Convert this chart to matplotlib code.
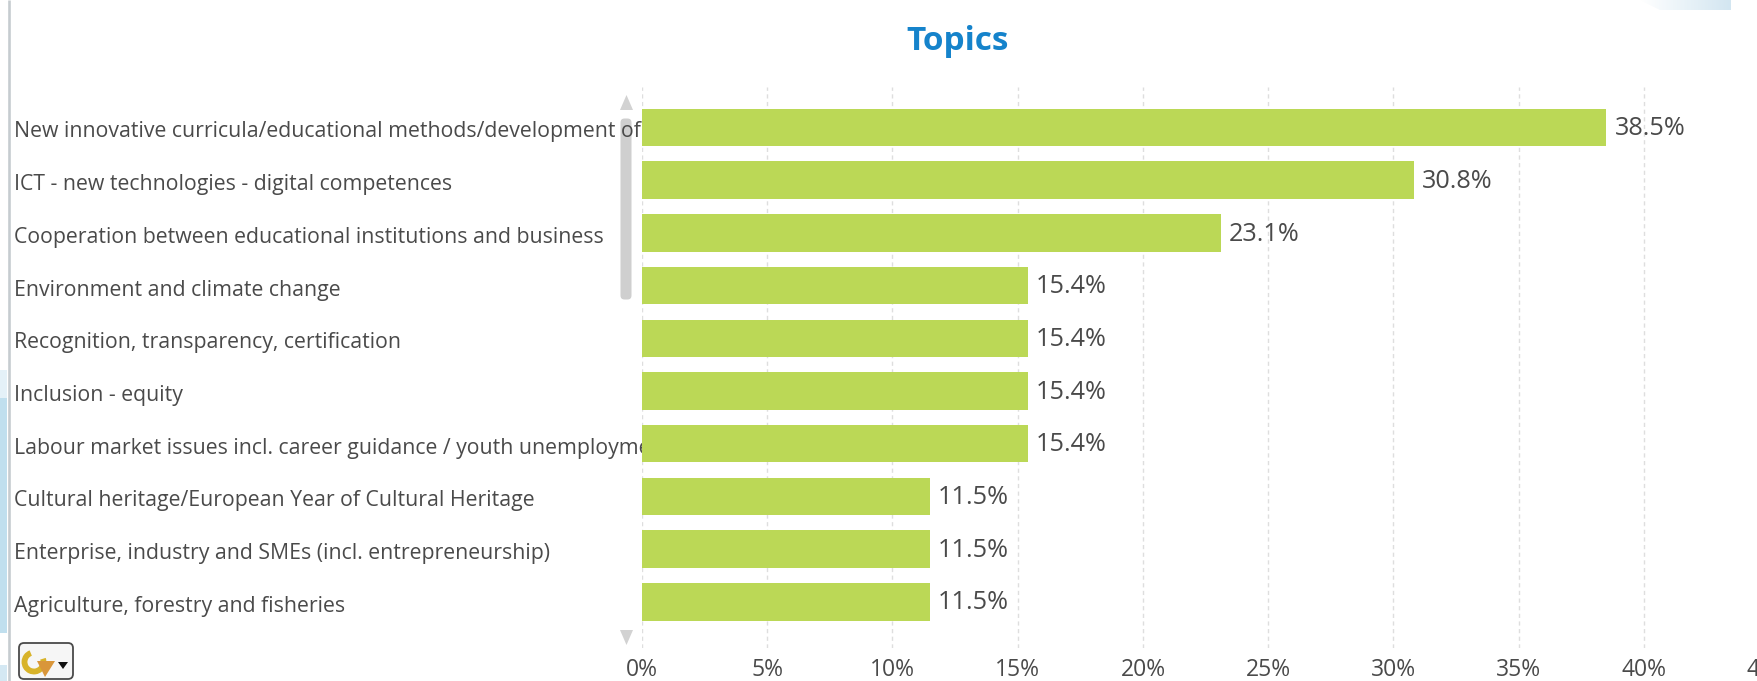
import matplotlib
matplotlib.use("Agg")
import numpy as np
import matplotlib.pyplot as plt
from matplotlib.patches import Rectangle, FancyBboxPatch, Polygon, Arc
from matplotlib.transforms import blended_transform_factory, Bbox

categories = [
    "New innovative curricula/educational methods/development of training courses",
    "ICT - new technologies - digital competences",
    "Cooperation between educational institutions and business",
    "Environment and climate change",
    "Recognition, transparency, certification",
    "Inclusion - equity",
    "Labour market issues incl. career guidance / youth unemployment",
    "Cultural heritage/European Year of Cultural Heritage",
    "Enterprise, industry and SMEs (incl. entrepreneurship)",
    "Agriculture, forestry and fisheries",
]
values = [38.5, 30.8, 23.1, 15.4, 15.4, 15.4, 15.4, 11.5, 11.5, 11.5]
x_ticks = [0, 5, 10, 15, 20, 25, 30, 35, 40, 45]

W, H = 1758, 681
BAR = "#bbd856"
TXT = "#4a4a4a"
plt.rcParams["font.family"] = ["Open Sans", "DejaVu Sans"]

fig = plt.figure(figsize=(W / 100, H / 100), dpi=100, facecolor="white")

def px_rect(l, t, r, b):
    return [l / W, 1 - b / H, (r - l) / W, (b - t) / H]

# page furniture behind the chart
ov = fig.add_axes([0, 0, 1, 1], zorder=-1)
ov.set_xlim(0, W); ov.set_ylim(H, 0); ov.axis("off")
ov.add_patch(Rectangle((0, 370), 7.5, 28, color="#e4f1f8", lw=0))
ov.add_patch(Rectangle((0, 398), 7.5, 235, color="#c0dfee", lw=0))
ov.add_patch(Rectangle((0, 665), 7.5, 16, color="#d4e8f3", lw=0))
ov.plot([9.5, 9.5], [0, H], color="#c6ccd0", lw=1.9, solid_capstyle="butt")
grad = ov.imshow(np.linspace(0, 1, 64).reshape(1, -1), extent=(1640, 1731, 10, 0),
                 cmap=matplotlib.colors.LinearSegmentedColormap.from_list("g", ["#ffffff", "#d3e6f1"]),
                 aspect="auto", zorder=1)
grad.set_clip_path(Polygon([(1640, 0), (1731, 0), (1731, 10), (1660, 10)], transform=ov.transData))
ov.set_xlim(0, W); ov.set_ylim(H, 0)
ov.add_patch(FancyBboxPatch((622, 120), 8, 178, boxstyle="round,pad=1.5,rounding_size=4",
                            fc="#cfcfcf", ec="none"))
ov.add_patch(Polygon([(626.5, 95), (620, 110), (633, 110)], color="#d2d2d2", lw=0))
ov.add_patch(Polygon([(626.5, 645), (620, 630), (633, 630)], color="#d2d2d2", lw=0))

# plot area, in pixels: 0% at 642, 25.05 px per percent, runs past the right edge
x0, ppu = 642, 25.05
xmax = 46
top, bottom = 87, 648
ax = fig.add_axes(px_rect(x0, top, x0 + xmax * ppu, bottom))
row0, rowh = 127.5, 52.7
ax.set_xlim(0, xmax)
ax.set_ylim((bottom - row0) / rowh, (top - row0) / rowh)

ypos = list(range(len(categories)))
ax.barh(ypos, values, height=0.71, color=BAR, zorder=3)
ax.set_xticks(x_ticks)
ax.set_xticklabels([f"{t}%" for t in x_ticks], fontsize=16.5, color=TXT)
ax.set_yticks([])
ax.tick_params(axis="x", length=0, pad=7)
ax.xaxis.grid(True, color="#dedede", linestyle=(0, (3, 2.5)), linewidth=1.0, zorder=1)
for s in ax.spines.values():
    s.set_visible(False)
ax.patch.set_alpha(0)

for y, v in zip(ypos, values):
    ax.annotate(f"{v:.1f}%", (v, y), xytext=(5.8, -0.8), textcoords="offset points",
                va="center", ha="left", fontsize=18.2, color=TXT, zorder=5)

# category labels, cut off where the plot starts
trans = blended_transform_factory(fig.transFigure, ax.transData)
clip = Bbox.from_extents(0, 0, x0, H)
for y, c in zip(ypos, categories):
    t = ax.text(14 / W, y + 0.085, c, transform=trans, va="center", ha="left",
                fontsize=15.3, color=TXT, clip_on=True, zorder=4)
    t.set_clip_box(clip)

fig.text(958 / W, 1 - 41 / H, "Topics", ha="center", va="center",
         fontsize=24, fontweight="bold", color="#1583cb")

# menu button
ov2 = fig.add_axes([0, 0, 1, 1], zorder=5)
ov2.set_xlim(0, W); ov2.set_ylim(H, 0); ov2.axis("off"); ov2.patch.set_alpha(0)
ov2.add_patch(FancyBboxPatch((21, 645), 50, 32, boxstyle="round,pad=2,rounding_size=5",
                             fc="#f6f6f6", ec="#4a4a4a", lw=1.3))
ov2.add_patch(Arc((34, 662), 19, 19, theta1=-20, theta2=250, color="#d8b32a", lw=4.2))
ov2.add_patch(Polygon([(37, 661), (55, 661), (45, 677)], color="#d9963a", lw=0))
ov2.add_patch(Polygon([(58, 662), (68, 662), (63, 669)], color="#111111", lw=0))

fig.savefig("out.png", dpi=100)
